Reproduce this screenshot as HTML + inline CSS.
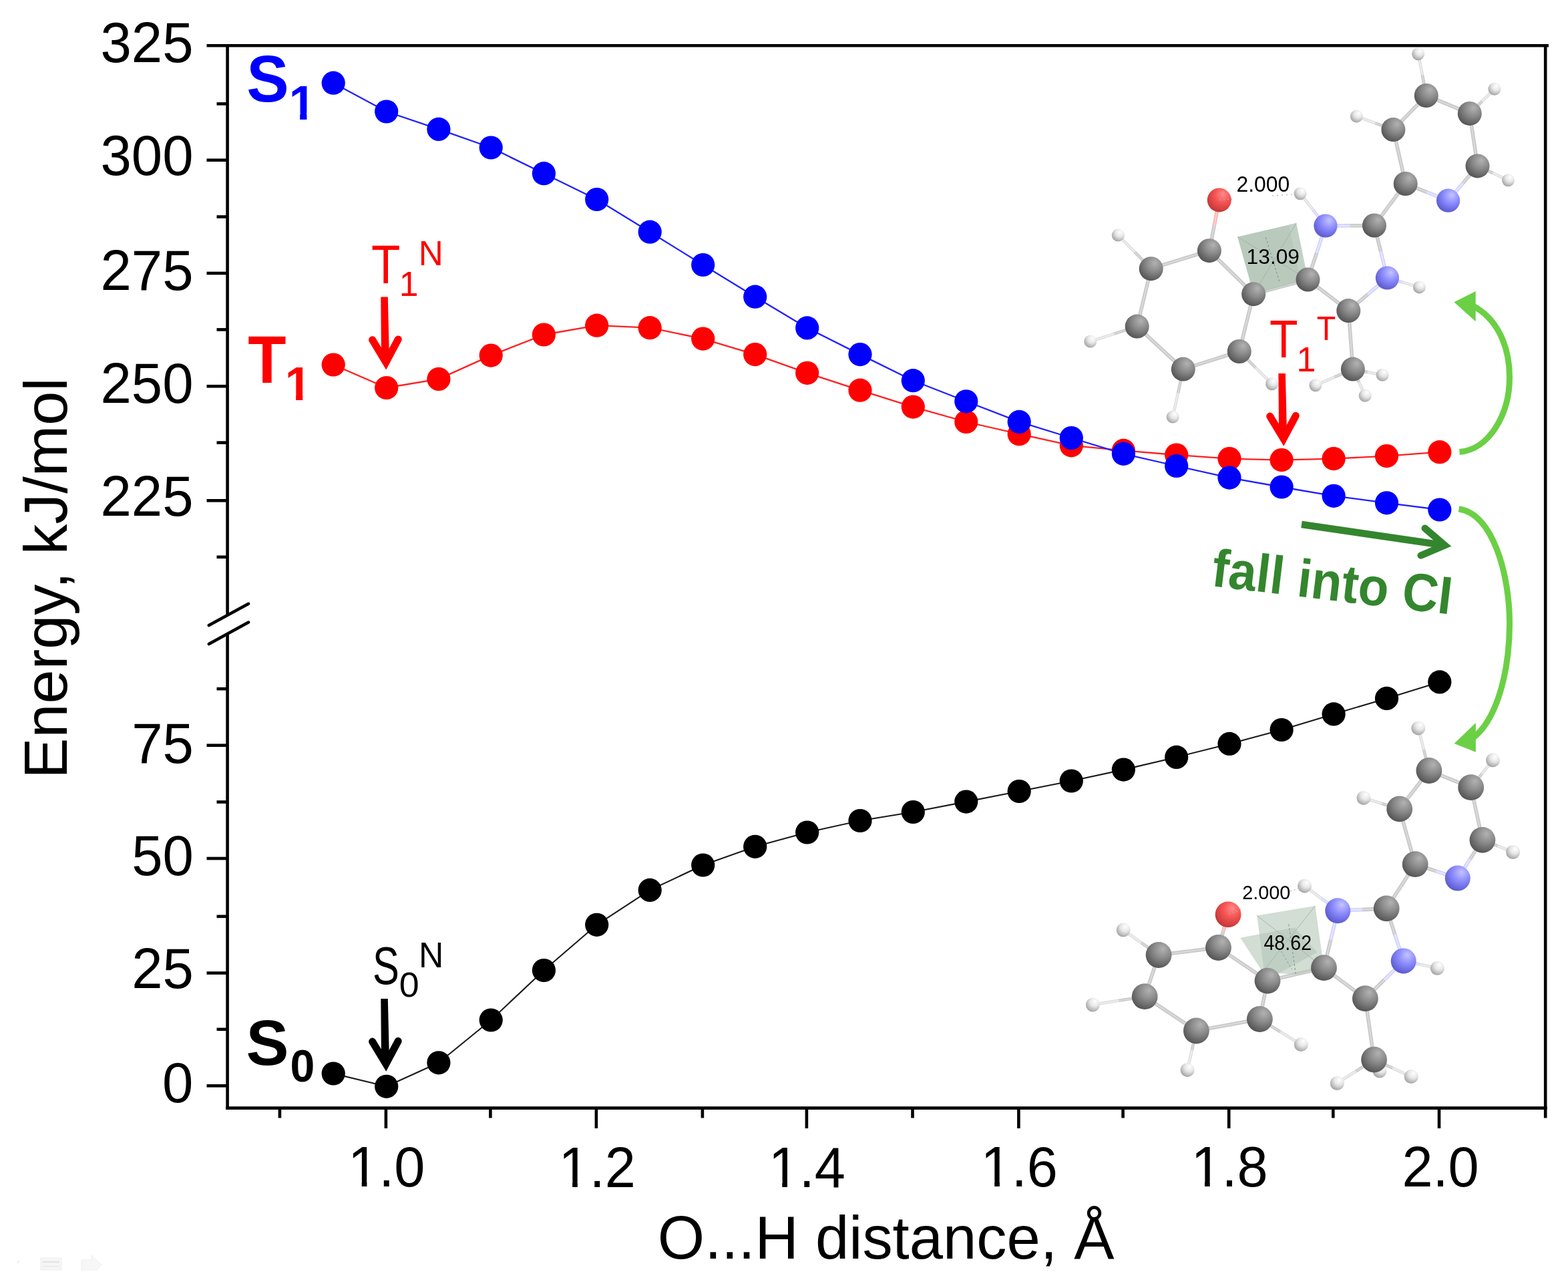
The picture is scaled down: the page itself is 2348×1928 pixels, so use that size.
<!DOCTYPE html><html><head><meta charset="utf-8"><style>html,body{margin:0;padding:0;background:#fff;width:2348px;height:1928px;overflow:hidden}svg{display:block}</style></head><body>
<svg width="2348" height="1928" viewBox="0 0 2348 1928">
<defs>
<radialGradient id="gC" cx="0.62" cy="0.32" r="0.75" fx="0.66" fy="0.26"><stop offset="0" stop-color="#b2b2b2"/><stop offset="0.45" stop-color="#8a8a8a"/><stop offset="1" stop-color="#4e4e4e"/></radialGradient>
<radialGradient id="gN" cx="0.62" cy="0.32" r="0.75" fx="0.66" fy="0.26"><stop offset="0" stop-color="#c4c4ff"/><stop offset="0.45" stop-color="#8c8cff"/><stop offset="1" stop-color="#5454c8"/></radialGradient>
<radialGradient id="gO" cx="0.62" cy="0.32" r="0.75" fx="0.66" fy="0.26"><stop offset="0" stop-color="#ff8a8a"/><stop offset="0.45" stop-color="#f65252"/><stop offset="1" stop-color="#bb3434"/></radialGradient>
<radialGradient id="gH" cx="0.62" cy="0.32" r="0.75" fx="0.66" fy="0.26"><stop offset="0" stop-color="#ffffff"/><stop offset="0.45" stop-color="#e6e6e6"/><stop offset="1" stop-color="#9a9a9a"/></radialGradient>
<clipPath id="c1_9" clipPathUnits="userSpaceOnUse"><rect x="-855.00" y="-855.00" width="1710.00" height="846.73"/><rect x="21.25" y="-8.27" width="7.95" height="10.27"/><rect x="53.01" y="-855.00" width="855.00" height="1710.00"/></clipPath><clipPath id="c1_10" clipPathUnits="userSpaceOnUse"><rect x="-855.00" y="-855.00" width="1710.00" height="846.73"/><rect x="21.25" y="-8.27" width="7.95" height="10.27"/><rect x="53.01" y="-855.00" width="855.00" height="1710.00"/></clipPath><clipPath id="c1_11" clipPathUnits="userSpaceOnUse"><rect x="-855.00" y="-855.00" width="1710.00" height="846.73"/><rect x="21.25" y="-8.27" width="7.95" height="10.27"/><rect x="53.01" y="-855.00" width="855.00" height="1710.00"/></clipPath><clipPath id="c1_12" clipPathUnits="userSpaceOnUse"><rect x="-855.00" y="-855.00" width="1710.00" height="846.73"/><rect x="21.25" y="-8.27" width="7.95" height="10.27"/><rect x="53.01" y="-855.00" width="855.00" height="1710.00"/></clipPath><clipPath id="c1_13" clipPathUnits="userSpaceOnUse"><rect x="-855.00" y="-855.00" width="1710.00" height="846.73"/><rect x="21.25" y="-8.27" width="7.95" height="10.27"/><rect x="53.01" y="-855.00" width="855.00" height="1710.00"/></clipPath><clipPath id="c1_16" clipPathUnits="userSpaceOnUse"><rect x="-717.39" y="-717.39" width="1434.78" height="707.42"/><rect x="16.49" y="-9.97" width="10.21" height="11.97"/><rect x="44.48" y="-717.39" width="717.39" height="1434.78"/></clipPath><clipPath id="c1_18" clipPathUnits="userSpaceOnUse"><rect x="-710.14" y="-710.14" width="1420.29" height="700.27"/><rect x="16.32" y="-9.88" width="10.12" height="11.88"/><rect x="44.03" y="-710.14" width="710.14" height="1420.29"/></clipPath>
</defs>
<rect width="2348" height="1928" fill="#fff"/>
<g stroke="#000" stroke-width="4.6" fill="none" stroke-linecap="butt">
<line x1="309.5" y1="68.3" x2="2319" y2="68.3"/>
<line x1="2314.2" y1="66.0" x2="2314.2" y2="1673.5"/>
<line x1="338.3" y1="1658.6" x2="2316.6" y2="1658.6"/>
<line x1="340.6" y1="66.0" x2="340.6" y2="921"/>
<line x1="340.6" y1="949" x2="340.6" y2="1660.9"/>
<line x1="309.5" y1="239.7" x2="340.6" y2="239.7"/>
<line x1="309.5" y1="409.0" x2="340.6" y2="409.0"/>
<line x1="309.5" y1="578.2" x2="340.6" y2="578.2"/>
<line x1="309.5" y1="749.3" x2="340.6" y2="749.3"/>
<line x1="324.5" y1="155.4" x2="340.6" y2="155.4"/>
<line x1="324.5" y1="324.5" x2="340.6" y2="324.5"/>
<line x1="324.5" y1="493.4" x2="340.6" y2="493.4"/>
<line x1="324.5" y1="662.6" x2="340.6" y2="662.6"/>
<line x1="324.5" y1="833.8" x2="340.6" y2="833.8"/>
<line x1="309.5" y1="1115.7" x2="340.6" y2="1115.7"/>
<line x1="309.5" y1="1285.0" x2="340.6" y2="1285.0"/>
<line x1="309.5" y1="1456.5" x2="340.6" y2="1456.5"/>
<line x1="309.5" y1="1625.3" x2="340.6" y2="1625.3"/>
<line x1="324.5" y1="1031.1" x2="340.6" y2="1031.1"/>
<line x1="324.5" y1="1200.5" x2="340.6" y2="1200.5"/>
<line x1="324.5" y1="1371.8" x2="340.6" y2="1371.8"/>
<line x1="324.5" y1="1540.8" x2="340.6" y2="1540.8"/>
<line x1="577.9" y1="1658.6" x2="577.9" y2="1689"/>
<line x1="892.9" y1="1658.6" x2="892.9" y2="1689"/>
<line x1="1207.9" y1="1658.6" x2="1207.9" y2="1689"/>
<line x1="1525.4" y1="1658.6" x2="1525.4" y2="1689"/>
<line x1="1840.2" y1="1658.6" x2="1840.2" y2="1689"/>
<line x1="2155.0" y1="1658.6" x2="2155.0" y2="1689"/>
<line x1="418.9" y1="1658.6" x2="418.9" y2="1673.5"/>
<line x1="734.4" y1="1658.6" x2="734.4" y2="1673.5"/>
<line x1="1051.9" y1="1658.6" x2="1051.9" y2="1673.5"/>
<line x1="1366.5" y1="1658.6" x2="1366.5" y2="1673.5"/>
<line x1="1681.6" y1="1658.6" x2="1681.6" y2="1673.5"/>
<line x1="1996.3" y1="1658.6" x2="1996.3" y2="1673.5"/>
</g>
<g stroke="#000" stroke-width="4.6" stroke-linecap="round"><line x1="312.8" y1="936.1" x2="372.1" y2="903.8"/><line x1="312.8" y1="964" x2="372.1" y2="931.6"/></g>
<polyline points="499.2,1607.0 578.7,1626.3 656.9,1590.8 735.2,1527.0 814.4,1452.5 893.7,1384.3 973.2,1332.4 1052.7,1295.0 1130.7,1267.3 1208.7,1246.0 1288.0,1228.5 1367.3,1215.5 1446.8,1200.1 1526.2,1184.5 1604.3,1169.0 1682.4,1152.1 1761.7,1133.4 1841.0,1113.4 1919.1,1092.5 1997.1,1068.9 2076.5,1045.4 2155.8,1020.9" fill="none" stroke="#1a1a1a" stroke-width="2.1" stroke-linejoin="round"/>
<g fill="#000000"><circle cx="499.2" cy="1607.0" r="17.6"/><circle cx="578.7" cy="1626.3" r="17.6"/><circle cx="656.9" cy="1590.8" r="17.6"/><circle cx="735.2" cy="1527.0" r="17.6"/><circle cx="814.4" cy="1452.5" r="17.6"/><circle cx="893.7" cy="1384.3" r="17.6"/><circle cx="973.2" cy="1332.4" r="17.6"/><circle cx="1052.7" cy="1295.0" r="17.6"/><circle cx="1130.7" cy="1267.3" r="17.6"/><circle cx="1208.7" cy="1246.0" r="17.6"/><circle cx="1288.0" cy="1228.5" r="17.6"/><circle cx="1367.3" cy="1215.5" r="17.6"/><circle cx="1446.8" cy="1200.1" r="17.6"/><circle cx="1526.2" cy="1184.5" r="17.6"/><circle cx="1604.3" cy="1169.0" r="17.6"/><circle cx="1682.4" cy="1152.1" r="17.6"/><circle cx="1761.7" cy="1133.4" r="17.6"/><circle cx="1841.0" cy="1113.4" r="17.6"/><circle cx="1919.1" cy="1092.5" r="17.6"/><circle cx="1997.1" cy="1068.9" r="17.6"/><circle cx="2076.5" cy="1045.4" r="17.6"/><circle cx="2155.8" cy="1020.9" r="17.6"/></g>
<polyline points="499.2,546.0 578.7,580.5 656.9,567.4 735.2,532.1 814.4,501.0 893.7,487.2 973.2,490.7 1052.7,507.1 1130.7,530.6 1208.7,558.3 1288.0,584.2 1367.3,609.1 1446.8,631.5 1526.2,649.7 1604.3,666.8 1682.4,674.4 1761.7,681.0 1841.0,686.6 1919.1,688.6 1997.1,686.6 2076.5,682.6 2155.8,676.7" fill="none" stroke="#ff2020" stroke-width="2.3" stroke-linejoin="round"/>
<g fill="#ff0000"><circle cx="499.2" cy="546.0" r="17.6"/><circle cx="578.7" cy="580.5" r="17.6"/><circle cx="656.9" cy="567.4" r="17.6"/><circle cx="735.2" cy="532.1" r="17.6"/><circle cx="814.4" cy="501.0" r="17.6"/><circle cx="893.7" cy="487.2" r="17.6"/><circle cx="973.2" cy="490.7" r="17.6"/><circle cx="1052.7" cy="507.1" r="17.6"/><circle cx="1130.7" cy="530.6" r="17.6"/><circle cx="1208.7" cy="558.3" r="17.6"/><circle cx="1288.0" cy="584.2" r="17.6"/><circle cx="1367.3" cy="609.1" r="17.6"/><circle cx="1446.8" cy="631.5" r="17.6"/><circle cx="1526.2" cy="649.7" r="17.6"/><circle cx="1604.3" cy="666.8" r="17.6"/><circle cx="1682.4" cy="674.4" r="17.6"/><circle cx="1761.7" cy="681.0" r="17.6"/><circle cx="1841.0" cy="686.6" r="17.6"/><circle cx="1919.1" cy="688.6" r="17.6"/><circle cx="1997.1" cy="686.6" r="17.6"/><circle cx="2076.5" cy="682.6" r="17.6"/><circle cx="2155.8" cy="676.7" r="17.6"/></g>
<polyline points="499.2,124.2 578.7,167.0 656.9,193.4 735.2,221.0 814.4,259.7 893.7,298.5 973.2,347.2 1052.7,396.5 1130.7,444.2 1208.7,490.9 1288.0,530.6 1367.3,569.7 1446.8,600.8 1526.2,631.4 1604.3,655.5 1682.4,679.3 1761.7,697.5 1841.0,715.1 1919.1,729.0 1997.1,742.3 2076.5,752.8 2155.8,763.0" fill="none" stroke="#2020ff" stroke-width="2.3" stroke-linejoin="round"/>
<g fill="#0000ff"><circle cx="499.2" cy="124.2" r="17.6"/><circle cx="578.7" cy="167.0" r="17.6"/><circle cx="656.9" cy="193.4" r="17.6"/><circle cx="735.2" cy="221.0" r="17.6"/><circle cx="814.4" cy="259.7" r="17.6"/><circle cx="893.7" cy="298.5" r="17.6"/><circle cx="973.2" cy="347.2" r="17.6"/><circle cx="1052.7" cy="396.5" r="17.6"/><circle cx="1130.7" cy="444.2" r="17.6"/><circle cx="1208.7" cy="490.9" r="17.6"/><circle cx="1288.0" cy="530.6" r="17.6"/><circle cx="1367.3" cy="569.7" r="17.6"/><circle cx="1446.8" cy="600.8" r="17.6"/><circle cx="1526.2" cy="631.4" r="17.6"/><circle cx="1604.3" cy="655.5" r="17.6"/><circle cx="1682.4" cy="679.3" r="17.6"/><circle cx="1761.7" cy="697.5" r="17.6"/><circle cx="1841.0" cy="715.1" r="17.6"/><circle cx="1919.1" cy="729.0" r="17.6"/><circle cx="1997.1" cy="742.3" r="17.6"/><circle cx="2076.5" cy="752.8" r="17.6"/><circle cx="2155.8" cy="763.0" r="17.6"/></g>
<line x1="1810.9" y1="375.2" x2="1767.3" y2="388.7" stroke="#c8c8c8" stroke-width="5.6"/>
<line x1="1767.3" y1="388.7" x2="1723.7" y2="402.2" stroke="#c8c8c8" stroke-width="5.6"/>
<line x1="1810.9" y1="375.2" x2="1767.3" y2="388.7" stroke="#dadada" stroke-width="2.2"/>
<line x1="1767.3" y1="388.7" x2="1723.7" y2="402.2" stroke="#dadada" stroke-width="2.2"/>
<line x1="1723.7" y1="402.2" x2="1713.2" y2="445.4" stroke="#c8c8c8" stroke-width="5.6"/>
<line x1="1713.2" y1="445.4" x2="1702.7" y2="488.6" stroke="#c8c8c8" stroke-width="5.6"/>
<line x1="1723.7" y1="402.2" x2="1713.2" y2="445.4" stroke="#dadada" stroke-width="2.2"/>
<line x1="1713.2" y1="445.4" x2="1702.7" y2="488.6" stroke="#dadada" stroke-width="2.2"/>
<line x1="1702.7" y1="488.6" x2="1737.2" y2="520.6" stroke="#c8c8c8" stroke-width="5.6"/>
<line x1="1737.2" y1="520.6" x2="1771.8" y2="552.6" stroke="#c8c8c8" stroke-width="5.6"/>
<line x1="1702.7" y1="488.6" x2="1737.2" y2="520.6" stroke="#dadada" stroke-width="2.2"/>
<line x1="1737.2" y1="520.6" x2="1771.8" y2="552.6" stroke="#dadada" stroke-width="2.2"/>
<line x1="1771.8" y1="552.6" x2="1813.8" y2="539.3" stroke="#c8c8c8" stroke-width="5.6"/>
<line x1="1813.8" y1="539.3" x2="1855.8" y2="526.0" stroke="#c8c8c8" stroke-width="5.6"/>
<line x1="1771.8" y1="552.6" x2="1813.8" y2="539.3" stroke="#dadada" stroke-width="2.2"/>
<line x1="1813.8" y1="539.3" x2="1855.8" y2="526.0" stroke="#dadada" stroke-width="2.2"/>
<line x1="1855.8" y1="526.0" x2="1866.5" y2="483.1" stroke="#c8c8c8" stroke-width="5.6"/>
<line x1="1866.5" y1="483.1" x2="1877.2" y2="440.2" stroke="#c8c8c8" stroke-width="5.6"/>
<line x1="1855.8" y1="526.0" x2="1866.5" y2="483.1" stroke="#dadada" stroke-width="2.2"/>
<line x1="1866.5" y1="483.1" x2="1877.2" y2="440.2" stroke="#dadada" stroke-width="2.2"/>
<line x1="1877.2" y1="440.2" x2="1844.1" y2="407.7" stroke="#c8c8c8" stroke-width="5.6"/>
<line x1="1844.1" y1="407.7" x2="1810.9" y2="375.2" stroke="#c8c8c8" stroke-width="5.6"/>
<line x1="1877.2" y1="440.2" x2="1844.1" y2="407.7" stroke="#dadada" stroke-width="2.2"/>
<line x1="1844.1" y1="407.7" x2="1810.9" y2="375.2" stroke="#dadada" stroke-width="2.2"/>
<line x1="1810.9" y1="375.2" x2="1818.3" y2="337.3" stroke="#c8c8c8" stroke-width="5.6"/>
<line x1="1818.3" y1="337.3" x2="1825.8" y2="299.4" stroke="#ffb4b4" stroke-width="5.6"/>
<line x1="1810.9" y1="375.2" x2="1818.3" y2="337.3" stroke="#dadada" stroke-width="2.2"/>
<line x1="1818.3" y1="337.3" x2="1825.8" y2="299.4" stroke="#ffd0d0" stroke-width="2.2"/>
<line x1="1877.2" y1="440.2" x2="1917.8" y2="429.4" stroke="#c8c8c8" stroke-width="5.6"/>
<line x1="1917.8" y1="429.4" x2="1958.5" y2="418.5" stroke="#c8c8c8" stroke-width="5.6"/>
<line x1="1877.2" y1="440.2" x2="1917.8" y2="429.4" stroke="#dadada" stroke-width="2.2"/>
<line x1="1917.8" y1="429.4" x2="1958.5" y2="418.5" stroke="#dadada" stroke-width="2.2"/>
<line x1="1958.5" y1="418.5" x2="1971.8" y2="378.2" stroke="#c8c8c8" stroke-width="5.6"/>
<line x1="1971.8" y1="378.2" x2="1985.0" y2="338.0" stroke="#d2d2ff" stroke-width="5.6"/>
<line x1="1958.5" y1="418.5" x2="1971.8" y2="378.2" stroke="#dadada" stroke-width="2.2"/>
<line x1="1971.8" y1="378.2" x2="1985.0" y2="338.0" stroke="#e6e6ff" stroke-width="2.2"/>
<line x1="1985.0" y1="338.0" x2="2021.5" y2="337.8" stroke="#d2d2ff" stroke-width="5.6"/>
<line x1="2021.5" y1="337.8" x2="2058.0" y2="337.5" stroke="#c8c8c8" stroke-width="5.6"/>
<line x1="1985.0" y1="338.0" x2="2021.5" y2="337.8" stroke="#e6e6ff" stroke-width="2.2"/>
<line x1="2021.5" y1="337.8" x2="2058.0" y2="337.5" stroke="#dadada" stroke-width="2.2"/>
<line x1="2058.0" y1="337.5" x2="2067.7" y2="376.8" stroke="#c8c8c8" stroke-width="5.6"/>
<line x1="2067.7" y1="376.8" x2="2077.4" y2="416.0" stroke="#d2d2ff" stroke-width="5.6"/>
<line x1="2058.0" y1="337.5" x2="2067.7" y2="376.8" stroke="#dadada" stroke-width="2.2"/>
<line x1="2067.7" y1="376.8" x2="2077.4" y2="416.0" stroke="#e6e6ff" stroke-width="2.2"/>
<line x1="2077.4" y1="416.0" x2="2048.3" y2="440.6" stroke="#d2d2ff" stroke-width="5.6"/>
<line x1="2048.3" y1="440.6" x2="2019.3" y2="465.1" stroke="#c8c8c8" stroke-width="5.6"/>
<line x1="2077.4" y1="416.0" x2="2048.3" y2="440.6" stroke="#e6e6ff" stroke-width="2.2"/>
<line x1="2048.3" y1="440.6" x2="2019.3" y2="465.1" stroke="#dadada" stroke-width="2.2"/>
<line x1="2019.3" y1="465.1" x2="1988.9" y2="441.8" stroke="#c8c8c8" stroke-width="5.6"/>
<line x1="1988.9" y1="441.8" x2="1958.5" y2="418.5" stroke="#c8c8c8" stroke-width="5.6"/>
<line x1="2019.3" y1="465.1" x2="1988.9" y2="441.8" stroke="#dadada" stroke-width="2.2"/>
<line x1="1988.9" y1="441.8" x2="1958.5" y2="418.5" stroke="#dadada" stroke-width="2.2"/>
<line x1="2058.0" y1="337.5" x2="2081.3" y2="306.2" stroke="#c8c8c8" stroke-width="5.6"/>
<line x1="2081.3" y1="306.2" x2="2104.7" y2="275.0" stroke="#c8c8c8" stroke-width="5.6"/>
<line x1="2058.0" y1="337.5" x2="2081.3" y2="306.2" stroke="#dadada" stroke-width="2.2"/>
<line x1="2081.3" y1="306.2" x2="2104.7" y2="275.0" stroke="#dadada" stroke-width="2.2"/>
<line x1="2104.7" y1="275.0" x2="2095.6" y2="234.6" stroke="#c8c8c8" stroke-width="5.6"/>
<line x1="2095.6" y1="234.6" x2="2086.4" y2="194.1" stroke="#c8c8c8" stroke-width="5.6"/>
<line x1="2104.7" y1="275.0" x2="2095.6" y2="234.6" stroke="#dadada" stroke-width="2.2"/>
<line x1="2095.6" y1="234.6" x2="2086.4" y2="194.1" stroke="#dadada" stroke-width="2.2"/>
<line x1="2086.4" y1="194.1" x2="2111.1" y2="168.6" stroke="#c8c8c8" stroke-width="5.6"/>
<line x1="2111.1" y1="168.6" x2="2135.8" y2="143.0" stroke="#c8c8c8" stroke-width="5.6"/>
<line x1="2086.4" y1="194.1" x2="2111.1" y2="168.6" stroke="#dadada" stroke-width="2.2"/>
<line x1="2111.1" y1="168.6" x2="2135.8" y2="143.0" stroke="#dadada" stroke-width="2.2"/>
<line x1="2135.8" y1="143.0" x2="2168.3" y2="156.4" stroke="#c8c8c8" stroke-width="5.6"/>
<line x1="2168.3" y1="156.4" x2="2200.8" y2="169.9" stroke="#c8c8c8" stroke-width="5.6"/>
<line x1="2135.8" y1="143.0" x2="2168.3" y2="156.4" stroke="#dadada" stroke-width="2.2"/>
<line x1="2168.3" y1="156.4" x2="2200.8" y2="169.9" stroke="#dadada" stroke-width="2.2"/>
<line x1="2200.8" y1="169.9" x2="2206.7" y2="209.2" stroke="#c8c8c8" stroke-width="5.6"/>
<line x1="2206.7" y1="209.2" x2="2212.5" y2="248.4" stroke="#c8c8c8" stroke-width="5.6"/>
<line x1="2200.8" y1="169.9" x2="2206.7" y2="209.2" stroke="#dadada" stroke-width="2.2"/>
<line x1="2206.7" y1="209.2" x2="2212.5" y2="248.4" stroke="#dadada" stroke-width="2.2"/>
<line x1="2212.5" y1="248.4" x2="2190.6" y2="274.3" stroke="#c8c8c8" stroke-width="5.6"/>
<line x1="2190.6" y1="274.3" x2="2168.6" y2="300.2" stroke="#d2d2ff" stroke-width="5.6"/>
<line x1="2212.5" y1="248.4" x2="2190.6" y2="274.3" stroke="#dadada" stroke-width="2.2"/>
<line x1="2190.6" y1="274.3" x2="2168.6" y2="300.2" stroke="#e6e6ff" stroke-width="2.2"/>
<line x1="2168.6" y1="300.2" x2="2136.6" y2="287.6" stroke="#d2d2ff" stroke-width="5.6"/>
<line x1="2136.6" y1="287.6" x2="2104.7" y2="275.0" stroke="#c8c8c8" stroke-width="5.6"/>
<line x1="2168.6" y1="300.2" x2="2136.6" y2="287.6" stroke="#e6e6ff" stroke-width="2.2"/>
<line x1="2136.6" y1="287.6" x2="2104.7" y2="275.0" stroke="#dadada" stroke-width="2.2"/>
<line x1="2019.3" y1="465.1" x2="2022.6" y2="508.9" stroke="#c8c8c8" stroke-width="5.6"/>
<line x1="2022.6" y1="508.9" x2="2025.9" y2="552.6" stroke="#c8c8c8" stroke-width="5.6"/>
<line x1="2019.3" y1="465.1" x2="2022.6" y2="508.9" stroke="#dadada" stroke-width="2.2"/>
<line x1="2022.6" y1="508.9" x2="2025.9" y2="552.6" stroke="#dadada" stroke-width="2.2"/>
<line x1="1723.7" y1="402.2" x2="1699.0" y2="377.1" stroke="#c8c8c8" stroke-width="4.6"/>
<line x1="1699.0" y1="377.1" x2="1674.3" y2="352.1" stroke="#dedede" stroke-width="4.6"/>
<line x1="1723.7" y1="402.2" x2="1699.0" y2="377.1" stroke="#dadada" stroke-width="1.8"/>
<line x1="1699.0" y1="377.1" x2="1674.3" y2="352.1" stroke="#eeeeee" stroke-width="1.8"/>
<line x1="1702.7" y1="488.6" x2="1667.8" y2="499.9" stroke="#c8c8c8" stroke-width="4.6"/>
<line x1="1667.8" y1="499.9" x2="1632.8" y2="511.1" stroke="#dedede" stroke-width="4.6"/>
<line x1="1702.7" y1="488.6" x2="1667.8" y2="499.9" stroke="#dadada" stroke-width="1.8"/>
<line x1="1667.8" y1="499.9" x2="1632.8" y2="511.1" stroke="#eeeeee" stroke-width="1.8"/>
<line x1="1771.8" y1="552.6" x2="1764.0" y2="588.4" stroke="#c8c8c8" stroke-width="4.6"/>
<line x1="1764.0" y1="588.4" x2="1756.2" y2="624.1" stroke="#dedede" stroke-width="4.6"/>
<line x1="1771.8" y1="552.6" x2="1764.0" y2="588.4" stroke="#dadada" stroke-width="1.8"/>
<line x1="1764.0" y1="588.4" x2="1756.2" y2="624.1" stroke="#eeeeee" stroke-width="1.8"/>
<line x1="1855.8" y1="526.0" x2="1880.2" y2="550.4" stroke="#c8c8c8" stroke-width="4.6"/>
<line x1="1880.2" y1="550.4" x2="1904.6" y2="574.7" stroke="#dedede" stroke-width="4.6"/>
<line x1="1855.8" y1="526.0" x2="1880.2" y2="550.4" stroke="#dadada" stroke-width="1.8"/>
<line x1="1880.2" y1="550.4" x2="1904.6" y2="574.7" stroke="#eeeeee" stroke-width="1.8"/>
<line x1="1985.0" y1="338.0" x2="1966.0" y2="313.9" stroke="#d2d2ff" stroke-width="4.6"/>
<line x1="1966.0" y1="313.9" x2="1947.0" y2="289.8" stroke="#dedede" stroke-width="4.6"/>
<line x1="1985.0" y1="338.0" x2="1966.0" y2="313.9" stroke="#e6e6ff" stroke-width="1.8"/>
<line x1="1966.0" y1="313.9" x2="1947.0" y2="289.8" stroke="#eeeeee" stroke-width="1.8"/>
<line x1="2077.4" y1="416.0" x2="2101.4" y2="422.9" stroke="#d2d2ff" stroke-width="4.6"/>
<line x1="2101.4" y1="422.9" x2="2125.4" y2="429.9" stroke="#dedede" stroke-width="4.6"/>
<line x1="2077.4" y1="416.0" x2="2101.4" y2="422.9" stroke="#e6e6ff" stroke-width="1.8"/>
<line x1="2101.4" y1="422.9" x2="2125.4" y2="429.9" stroke="#eeeeee" stroke-width="1.8"/>
<line x1="2086.4" y1="194.1" x2="2058.9" y2="184.1" stroke="#c8c8c8" stroke-width="4.6"/>
<line x1="2058.9" y1="184.1" x2="2031.4" y2="174.1" stroke="#dedede" stroke-width="4.6"/>
<line x1="2086.4" y1="194.1" x2="2058.9" y2="184.1" stroke="#dadada" stroke-width="1.8"/>
<line x1="2058.9" y1="184.1" x2="2031.4" y2="174.1" stroke="#eeeeee" stroke-width="1.8"/>
<line x1="2135.8" y1="143.0" x2="2129.8" y2="111.8" stroke="#c8c8c8" stroke-width="4.6"/>
<line x1="2129.8" y1="111.8" x2="2123.7" y2="80.7" stroke="#dedede" stroke-width="4.6"/>
<line x1="2135.8" y1="143.0" x2="2129.8" y2="111.8" stroke="#dadada" stroke-width="1.8"/>
<line x1="2129.8" y1="111.8" x2="2123.7" y2="80.7" stroke="#eeeeee" stroke-width="1.8"/>
<line x1="2200.8" y1="169.9" x2="2219.4" y2="151.6" stroke="#c8c8c8" stroke-width="4.6"/>
<line x1="2219.4" y1="151.6" x2="2237.9" y2="133.3" stroke="#dedede" stroke-width="4.6"/>
<line x1="2200.8" y1="169.9" x2="2219.4" y2="151.6" stroke="#dadada" stroke-width="1.8"/>
<line x1="2219.4" y1="151.6" x2="2237.9" y2="133.3" stroke="#eeeeee" stroke-width="1.8"/>
<line x1="2212.5" y1="248.4" x2="2235.5" y2="259.1" stroke="#c8c8c8" stroke-width="4.6"/>
<line x1="2235.5" y1="259.1" x2="2258.5" y2="269.8" stroke="#dedede" stroke-width="4.6"/>
<line x1="2212.5" y1="248.4" x2="2235.5" y2="259.1" stroke="#dadada" stroke-width="1.8"/>
<line x1="2235.5" y1="259.1" x2="2258.5" y2="269.8" stroke="#eeeeee" stroke-width="1.8"/>
<line x1="2025.9" y1="552.6" x2="1997.9" y2="564.7" stroke="#c8c8c8" stroke-width="4.6"/>
<line x1="1997.9" y1="564.7" x2="1969.9" y2="576.8" stroke="#dedede" stroke-width="4.6"/>
<line x1="2025.9" y1="552.6" x2="1997.9" y2="564.7" stroke="#dadada" stroke-width="1.8"/>
<line x1="1997.9" y1="564.7" x2="1969.9" y2="576.8" stroke="#eeeeee" stroke-width="1.8"/>
<line x1="2025.9" y1="552.6" x2="2048.0" y2="556.9" stroke="#c8c8c8" stroke-width="4.6"/>
<line x1="2048.0" y1="556.9" x2="2070.1" y2="561.2" stroke="#dedede" stroke-width="4.6"/>
<line x1="2025.9" y1="552.6" x2="2048.0" y2="556.9" stroke="#dadada" stroke-width="1.8"/>
<line x1="2048.0" y1="556.9" x2="2070.1" y2="561.2" stroke="#eeeeee" stroke-width="1.8"/>
<line x1="2025.9" y1="552.6" x2="2035.1" y2="572.5" stroke="#c8c8c8" stroke-width="4.6"/>
<line x1="2035.1" y1="572.5" x2="2044.2" y2="592.3" stroke="#dedede" stroke-width="4.6"/>
<line x1="2025.9" y1="552.6" x2="2035.1" y2="572.5" stroke="#dadada" stroke-width="1.8"/>
<line x1="2035.1" y1="572.5" x2="2044.2" y2="592.3" stroke="#eeeeee" stroke-width="1.8"/>
<g><polygon points="1853.1,354.5 1941.1,333.9 1958.5,418.5 1877.2,440.2" fill="#b4c6b8" fill-opacity="0.93"/><polygon points="1930,336 1941.1,333.9 1958.5,418.5 1948,421" fill="#c8d6cb" fill-opacity="0.6"/><g stroke="#a3b5a7" stroke-width="1" fill="none"><line x1="1853.1" y1="354.5" x2="1958.5" y2="418.5"/><line x1="1941.1" y1="333.9" x2="1877.2" y2="440.2"/></g><line x1="1895.4" y1="355.2" x2="1916.4" y2="423.4" stroke="#8d9d91" stroke-width="1.3" stroke-dasharray="3,3"/></g>
<circle cx="1674.3" cy="352.1" r="9.5" fill="url(#gH)"/>
<circle cx="1632.8" cy="511.1" r="9.5" fill="url(#gH)"/>
<circle cx="1756.2" cy="624.1" r="9.5" fill="url(#gH)"/>
<circle cx="1904.6" cy="574.7" r="9.5" fill="url(#gH)"/>
<circle cx="1947.0" cy="289.8" r="9.5" fill="url(#gH)"/>
<circle cx="2125.4" cy="429.9" r="9.5" fill="url(#gH)"/>
<circle cx="2031.4" cy="174.1" r="9.5" fill="url(#gH)"/>
<circle cx="2123.7" cy="80.7" r="9.5" fill="url(#gH)"/>
<circle cx="2237.9" cy="133.3" r="9.5" fill="url(#gH)"/>
<circle cx="2258.5" cy="269.8" r="9.5" fill="url(#gH)"/>
<circle cx="1969.9" cy="576.8" r="9.5" fill="url(#gH)"/>
<circle cx="2070.1" cy="561.2" r="9.5" fill="url(#gH)"/>
<circle cx="2044.2" cy="592.3" r="9.5" fill="url(#gH)"/>
<circle cx="1810.9" cy="375.2" r="18.0" fill="url(#gC)"/>
<circle cx="1723.7" cy="402.2" r="18.0" fill="url(#gC)"/>
<circle cx="1702.7" cy="488.6" r="18.0" fill="url(#gC)"/>
<circle cx="1771.8" cy="552.6" r="18.0" fill="url(#gC)"/>
<circle cx="1855.8" cy="526.0" r="18.0" fill="url(#gC)"/>
<circle cx="1877.2" cy="440.2" r="18.0" fill="url(#gC)"/>
<circle cx="1958.5" cy="418.5" r="18.0" fill="url(#gC)"/>
<circle cx="2019.3" cy="465.1" r="18.0" fill="url(#gC)"/>
<circle cx="2058.0" cy="337.5" r="18.0" fill="url(#gC)"/>
<circle cx="2104.7" cy="275.0" r="18.0" fill="url(#gC)"/>
<circle cx="2086.4" cy="194.1" r="18.0" fill="url(#gC)"/>
<circle cx="2135.8" cy="143.0" r="18.0" fill="url(#gC)"/>
<circle cx="2200.8" cy="169.9" r="18.0" fill="url(#gC)"/>
<circle cx="2212.5" cy="248.4" r="18.0" fill="url(#gC)"/>
<circle cx="2025.9" cy="552.6" r="18.0" fill="url(#gC)"/>
<circle cx="1985.0" cy="338.0" r="17.6" fill="url(#gN)"/>
<circle cx="2077.4" cy="416.0" r="17.6" fill="url(#gN)"/>
<circle cx="2168.6" cy="300.2" r="17.6" fill="url(#gN)"/>
<circle cx="1825.8" cy="299.4" r="18.0" fill="url(#gO)"/>
<line x1="1824.5" y1="1418.5" x2="1779.8" y2="1424.0" stroke="#c8c8c8" stroke-width="5.6"/>
<line x1="1779.8" y1="1424.0" x2="1735.1" y2="1429.5" stroke="#c8c8c8" stroke-width="5.6"/>
<line x1="1824.5" y1="1418.5" x2="1779.8" y2="1424.0" stroke="#dadada" stroke-width="2.2"/>
<line x1="1779.8" y1="1424.0" x2="1735.1" y2="1429.5" stroke="#dadada" stroke-width="2.2"/>
<line x1="1735.1" y1="1429.5" x2="1724.7" y2="1460.6" stroke="#c8c8c8" stroke-width="5.6"/>
<line x1="1724.7" y1="1460.6" x2="1714.2" y2="1491.7" stroke="#c8c8c8" stroke-width="5.6"/>
<line x1="1735.1" y1="1429.5" x2="1724.7" y2="1460.6" stroke="#dadada" stroke-width="2.2"/>
<line x1="1724.7" y1="1460.6" x2="1714.2" y2="1491.7" stroke="#dadada" stroke-width="2.2"/>
<line x1="1714.2" y1="1491.7" x2="1752.8" y2="1517.3" stroke="#c8c8c8" stroke-width="5.6"/>
<line x1="1752.8" y1="1517.3" x2="1791.4" y2="1543.0" stroke="#c8c8c8" stroke-width="5.6"/>
<line x1="1714.2" y1="1491.7" x2="1752.8" y2="1517.3" stroke="#dadada" stroke-width="2.2"/>
<line x1="1752.8" y1="1517.3" x2="1791.4" y2="1543.0" stroke="#dadada" stroke-width="2.2"/>
<line x1="1791.4" y1="1543.0" x2="1838.9" y2="1534.2" stroke="#c8c8c8" stroke-width="5.6"/>
<line x1="1838.9" y1="1534.2" x2="1886.4" y2="1525.5" stroke="#c8c8c8" stroke-width="5.6"/>
<line x1="1791.4" y1="1543.0" x2="1838.9" y2="1534.2" stroke="#dadada" stroke-width="2.2"/>
<line x1="1838.9" y1="1534.2" x2="1886.4" y2="1525.5" stroke="#dadada" stroke-width="2.2"/>
<line x1="1886.4" y1="1525.5" x2="1892.2" y2="1496.8" stroke="#c8c8c8" stroke-width="5.6"/>
<line x1="1892.2" y1="1496.8" x2="1898.0" y2="1468.2" stroke="#c8c8c8" stroke-width="5.6"/>
<line x1="1886.4" y1="1525.5" x2="1892.2" y2="1496.8" stroke="#dadada" stroke-width="2.2"/>
<line x1="1892.2" y1="1496.8" x2="1898.0" y2="1468.2" stroke="#dadada" stroke-width="2.2"/>
<line x1="1898.0" y1="1468.2" x2="1861.2" y2="1443.3" stroke="#c8c8c8" stroke-width="5.6"/>
<line x1="1861.2" y1="1443.3" x2="1824.5" y2="1418.5" stroke="#c8c8c8" stroke-width="5.6"/>
<line x1="1898.0" y1="1468.2" x2="1861.2" y2="1443.3" stroke="#dadada" stroke-width="2.2"/>
<line x1="1861.2" y1="1443.3" x2="1824.5" y2="1418.5" stroke="#dadada" stroke-width="2.2"/>
<line x1="1824.5" y1="1418.5" x2="1831.8" y2="1393.7" stroke="#c8c8c8" stroke-width="5.6"/>
<line x1="1831.8" y1="1393.7" x2="1839.1" y2="1368.9" stroke="#ffb4b4" stroke-width="5.6"/>
<line x1="1824.5" y1="1418.5" x2="1831.8" y2="1393.7" stroke="#dadada" stroke-width="2.2"/>
<line x1="1831.8" y1="1393.7" x2="1839.1" y2="1368.9" stroke="#ffd0d0" stroke-width="2.2"/>
<line x1="1898.0" y1="1468.2" x2="1940.2" y2="1458.5" stroke="#c8c8c8" stroke-width="5.6"/>
<line x1="1940.2" y1="1458.5" x2="1982.5" y2="1448.7" stroke="#c8c8c8" stroke-width="5.6"/>
<line x1="1898.0" y1="1468.2" x2="1940.2" y2="1458.5" stroke="#dadada" stroke-width="2.2"/>
<line x1="1940.2" y1="1458.5" x2="1982.5" y2="1448.7" stroke="#dadada" stroke-width="2.2"/>
<line x1="1982.5" y1="1448.7" x2="1992.9" y2="1406.0" stroke="#c8c8c8" stroke-width="5.6"/>
<line x1="1992.9" y1="1406.0" x2="2003.3" y2="1363.2" stroke="#d2d2ff" stroke-width="5.6"/>
<line x1="1982.5" y1="1448.7" x2="1992.9" y2="1406.0" stroke="#dadada" stroke-width="2.2"/>
<line x1="1992.9" y1="1406.0" x2="2003.3" y2="1363.2" stroke="#e6e6ff" stroke-width="2.2"/>
<line x1="2003.3" y1="1363.2" x2="2039.8" y2="1361.6" stroke="#d2d2ff" stroke-width="5.6"/>
<line x1="2039.8" y1="1361.6" x2="2076.2" y2="1359.9" stroke="#c8c8c8" stroke-width="5.6"/>
<line x1="2003.3" y1="1363.2" x2="2039.8" y2="1361.6" stroke="#e6e6ff" stroke-width="2.2"/>
<line x1="2039.8" y1="1361.6" x2="2076.2" y2="1359.9" stroke="#dadada" stroke-width="2.2"/>
<line x1="2076.2" y1="1359.9" x2="2088.9" y2="1399.2" stroke="#c8c8c8" stroke-width="5.6"/>
<line x1="2088.9" y1="1399.2" x2="2101.7" y2="1438.4" stroke="#d2d2ff" stroke-width="5.6"/>
<line x1="2076.2" y1="1359.9" x2="2088.9" y2="1399.2" stroke="#dadada" stroke-width="2.2"/>
<line x1="2088.9" y1="1399.2" x2="2101.7" y2="1438.4" stroke="#e6e6ff" stroke-width="2.2"/>
<line x1="2101.7" y1="1438.4" x2="2073.1" y2="1466.6" stroke="#d2d2ff" stroke-width="5.6"/>
<line x1="2073.1" y1="1466.6" x2="2044.4" y2="1494.7" stroke="#c8c8c8" stroke-width="5.6"/>
<line x1="2101.7" y1="1438.4" x2="2073.1" y2="1466.6" stroke="#e6e6ff" stroke-width="2.2"/>
<line x1="2073.1" y1="1466.6" x2="2044.4" y2="1494.7" stroke="#dadada" stroke-width="2.2"/>
<line x1="2044.4" y1="1494.7" x2="2013.5" y2="1471.7" stroke="#c8c8c8" stroke-width="5.6"/>
<line x1="2013.5" y1="1471.7" x2="1982.5" y2="1448.7" stroke="#c8c8c8" stroke-width="5.6"/>
<line x1="2044.4" y1="1494.7" x2="2013.5" y2="1471.7" stroke="#dadada" stroke-width="2.2"/>
<line x1="2013.5" y1="1471.7" x2="1982.5" y2="1448.7" stroke="#dadada" stroke-width="2.2"/>
<line x1="2076.2" y1="1359.9" x2="2097.7" y2="1326.8" stroke="#c8c8c8" stroke-width="5.6"/>
<line x1="2097.7" y1="1326.8" x2="2119.2" y2="1293.7" stroke="#c8c8c8" stroke-width="5.6"/>
<line x1="2076.2" y1="1359.9" x2="2097.7" y2="1326.8" stroke="#dadada" stroke-width="2.2"/>
<line x1="2097.7" y1="1326.8" x2="2119.2" y2="1293.7" stroke="#dadada" stroke-width="2.2"/>
<line x1="2119.2" y1="1293.7" x2="2107.4" y2="1252.3" stroke="#c8c8c8" stroke-width="5.6"/>
<line x1="2107.4" y1="1252.3" x2="2095.7" y2="1210.9" stroke="#c8c8c8" stroke-width="5.6"/>
<line x1="2119.2" y1="1293.7" x2="2107.4" y2="1252.3" stroke="#dadada" stroke-width="2.2"/>
<line x1="2107.4" y1="1252.3" x2="2095.7" y2="1210.9" stroke="#dadada" stroke-width="2.2"/>
<line x1="2095.7" y1="1210.9" x2="2117.8" y2="1182.2" stroke="#c8c8c8" stroke-width="5.6"/>
<line x1="2117.8" y1="1182.2" x2="2139.9" y2="1153.5" stroke="#c8c8c8" stroke-width="5.6"/>
<line x1="2095.7" y1="1210.9" x2="2117.8" y2="1182.2" stroke="#dadada" stroke-width="2.2"/>
<line x1="2117.8" y1="1182.2" x2="2139.9" y2="1153.5" stroke="#dadada" stroke-width="2.2"/>
<line x1="2139.9" y1="1153.5" x2="2171.3" y2="1166.1" stroke="#c8c8c8" stroke-width="5.6"/>
<line x1="2171.3" y1="1166.1" x2="2202.7" y2="1178.7" stroke="#c8c8c8" stroke-width="5.6"/>
<line x1="2139.9" y1="1153.5" x2="2171.3" y2="1166.1" stroke="#dadada" stroke-width="2.2"/>
<line x1="2171.3" y1="1166.1" x2="2202.7" y2="1178.7" stroke="#dadada" stroke-width="2.2"/>
<line x1="2202.7" y1="1178.7" x2="2211.3" y2="1218.0" stroke="#c8c8c8" stroke-width="5.6"/>
<line x1="2211.3" y1="1218.0" x2="2219.9" y2="1257.3" stroke="#c8c8c8" stroke-width="5.6"/>
<line x1="2202.7" y1="1178.7" x2="2211.3" y2="1218.0" stroke="#dadada" stroke-width="2.2"/>
<line x1="2211.3" y1="1218.0" x2="2219.9" y2="1257.3" stroke="#dadada" stroke-width="2.2"/>
<line x1="2219.9" y1="1257.3" x2="2201.4" y2="1285.9" stroke="#c8c8c8" stroke-width="5.6"/>
<line x1="2201.4" y1="1285.9" x2="2182.8" y2="1314.6" stroke="#d2d2ff" stroke-width="5.6"/>
<line x1="2219.9" y1="1257.3" x2="2201.4" y2="1285.9" stroke="#dadada" stroke-width="2.2"/>
<line x1="2201.4" y1="1285.9" x2="2182.8" y2="1314.6" stroke="#e6e6ff" stroke-width="2.2"/>
<line x1="2182.8" y1="1314.6" x2="2151.0" y2="1304.2" stroke="#d2d2ff" stroke-width="5.6"/>
<line x1="2151.0" y1="1304.2" x2="2119.2" y2="1293.7" stroke="#c8c8c8" stroke-width="5.6"/>
<line x1="2182.8" y1="1314.6" x2="2151.0" y2="1304.2" stroke="#e6e6ff" stroke-width="2.2"/>
<line x1="2151.0" y1="1304.2" x2="2119.2" y2="1293.7" stroke="#dadada" stroke-width="2.2"/>
<line x1="2044.4" y1="1494.7" x2="2051.0" y2="1540.4" stroke="#c8c8c8" stroke-width="5.6"/>
<line x1="2051.0" y1="1540.4" x2="2057.6" y2="1586.1" stroke="#c8c8c8" stroke-width="5.6"/>
<line x1="2044.4" y1="1494.7" x2="2051.0" y2="1540.4" stroke="#dadada" stroke-width="2.2"/>
<line x1="2051.0" y1="1540.4" x2="2057.6" y2="1586.1" stroke="#dadada" stroke-width="2.2"/>
<line x1="1735.1" y1="1429.5" x2="1708.6" y2="1410.8" stroke="#c8c8c8" stroke-width="4.6"/>
<line x1="1708.6" y1="1410.8" x2="1682.1" y2="1392.1" stroke="#dedede" stroke-width="4.6"/>
<line x1="1735.1" y1="1429.5" x2="1708.6" y2="1410.8" stroke="#dadada" stroke-width="1.8"/>
<line x1="1708.6" y1="1410.8" x2="1682.1" y2="1392.1" stroke="#eeeeee" stroke-width="1.8"/>
<line x1="1714.2" y1="1491.7" x2="1675.3" y2="1497.8" stroke="#c8c8c8" stroke-width="4.6"/>
<line x1="1675.3" y1="1497.8" x2="1636.4" y2="1504.0" stroke="#dedede" stroke-width="4.6"/>
<line x1="1714.2" y1="1491.7" x2="1675.3" y2="1497.8" stroke="#dadada" stroke-width="1.8"/>
<line x1="1675.3" y1="1497.8" x2="1636.4" y2="1504.0" stroke="#eeeeee" stroke-width="1.8"/>
<line x1="1791.4" y1="1543.0" x2="1784.8" y2="1572.3" stroke="#c8c8c8" stroke-width="4.6"/>
<line x1="1784.8" y1="1572.3" x2="1778.1" y2="1601.7" stroke="#dedede" stroke-width="4.6"/>
<line x1="1791.4" y1="1543.0" x2="1784.8" y2="1572.3" stroke="#dadada" stroke-width="1.8"/>
<line x1="1784.8" y1="1572.3" x2="1778.1" y2="1601.7" stroke="#eeeeee" stroke-width="1.8"/>
<line x1="1886.4" y1="1525.5" x2="1917.3" y2="1544.5" stroke="#c8c8c8" stroke-width="4.6"/>
<line x1="1917.3" y1="1544.5" x2="1948.3" y2="1563.6" stroke="#dedede" stroke-width="4.6"/>
<line x1="1886.4" y1="1525.5" x2="1917.3" y2="1544.5" stroke="#dadada" stroke-width="1.8"/>
<line x1="1917.3" y1="1544.5" x2="1948.3" y2="1563.6" stroke="#eeeeee" stroke-width="1.8"/>
<line x1="2003.3" y1="1363.2" x2="1978.4" y2="1344.7" stroke="#d2d2ff" stroke-width="4.6"/>
<line x1="1978.4" y1="1344.7" x2="1953.6" y2="1326.2" stroke="#dedede" stroke-width="4.6"/>
<line x1="2003.3" y1="1363.2" x2="1978.4" y2="1344.7" stroke="#e6e6ff" stroke-width="1.8"/>
<line x1="1978.4" y1="1344.7" x2="1953.6" y2="1326.2" stroke="#eeeeee" stroke-width="1.8"/>
<line x1="2101.7" y1="1438.4" x2="2127.0" y2="1443.8" stroke="#d2d2ff" stroke-width="4.6"/>
<line x1="2127.0" y1="1443.8" x2="2152.3" y2="1449.3" stroke="#dedede" stroke-width="4.6"/>
<line x1="2101.7" y1="1438.4" x2="2127.0" y2="1443.8" stroke="#e6e6ff" stroke-width="1.8"/>
<line x1="2127.0" y1="1443.8" x2="2152.3" y2="1449.3" stroke="#eeeeee" stroke-width="1.8"/>
<line x1="2095.7" y1="1210.9" x2="2068.8" y2="1202.7" stroke="#c8c8c8" stroke-width="4.6"/>
<line x1="2068.8" y1="1202.7" x2="2042.0" y2="1194.4" stroke="#dedede" stroke-width="4.6"/>
<line x1="2095.7" y1="1210.9" x2="2068.8" y2="1202.7" stroke="#dadada" stroke-width="1.8"/>
<line x1="2068.8" y1="1202.7" x2="2042.0" y2="1194.4" stroke="#eeeeee" stroke-width="1.8"/>
<line x1="2139.9" y1="1153.5" x2="2131.9" y2="1121.7" stroke="#c8c8c8" stroke-width="4.6"/>
<line x1="2131.9" y1="1121.7" x2="2123.8" y2="1089.9" stroke="#dedede" stroke-width="4.6"/>
<line x1="2139.9" y1="1153.5" x2="2131.9" y2="1121.7" stroke="#dadada" stroke-width="1.8"/>
<line x1="2131.9" y1="1121.7" x2="2123.8" y2="1089.9" stroke="#eeeeee" stroke-width="1.8"/>
<line x1="2202.7" y1="1178.7" x2="2219.1" y2="1158.2" stroke="#c8c8c8" stroke-width="4.6"/>
<line x1="2219.1" y1="1158.2" x2="2235.5" y2="1137.8" stroke="#dedede" stroke-width="4.6"/>
<line x1="2202.7" y1="1178.7" x2="2219.1" y2="1158.2" stroke="#dadada" stroke-width="1.8"/>
<line x1="2219.1" y1="1158.2" x2="2235.5" y2="1137.8" stroke="#eeeeee" stroke-width="1.8"/>
<line x1="2219.9" y1="1257.3" x2="2242.8" y2="1266.4" stroke="#c8c8c8" stroke-width="4.6"/>
<line x1="2242.8" y1="1266.4" x2="2265.6" y2="1275.5" stroke="#dedede" stroke-width="4.6"/>
<line x1="2219.9" y1="1257.3" x2="2242.8" y2="1266.4" stroke="#dadada" stroke-width="1.8"/>
<line x1="2242.8" y1="1266.4" x2="2265.6" y2="1275.5" stroke="#eeeeee" stroke-width="1.8"/>
<line x1="2057.6" y1="1586.1" x2="2029.9" y2="1603.8" stroke="#c8c8c8" stroke-width="4.6"/>
<line x1="2029.9" y1="1603.8" x2="2002.3" y2="1621.5" stroke="#dedede" stroke-width="4.6"/>
<line x1="2057.6" y1="1586.1" x2="2029.9" y2="1603.8" stroke="#dadada" stroke-width="1.8"/>
<line x1="2029.9" y1="1603.8" x2="2002.3" y2="1621.5" stroke="#eeeeee" stroke-width="1.8"/>
<line x1="2057.6" y1="1586.1" x2="2085.4" y2="1598.8" stroke="#c8c8c8" stroke-width="4.6"/>
<line x1="2085.4" y1="1598.8" x2="2113.2" y2="1611.6" stroke="#dedede" stroke-width="4.6"/>
<line x1="2057.6" y1="1586.1" x2="2085.4" y2="1598.8" stroke="#dadada" stroke-width="1.8"/>
<line x1="2085.4" y1="1598.8" x2="2113.2" y2="1611.6" stroke="#eeeeee" stroke-width="1.8"/>
<line x1="2057.6" y1="1586.1" x2="2061.8" y2="1594.5" stroke="#c8c8c8" stroke-width="4.6"/>
<line x1="2061.8" y1="1594.5" x2="2066.0" y2="1603.0" stroke="#dedede" stroke-width="4.6"/>
<line x1="2057.6" y1="1586.1" x2="2061.8" y2="1594.5" stroke="#dadada" stroke-width="1.8"/>
<line x1="2061.8" y1="1594.5" x2="2066.0" y2="1603.0" stroke="#eeeeee" stroke-width="1.8"/>
<g><polygon points="1882.3,1370.6 1969.4,1356.1 1982.5,1448.7 1940,1459 1893,1455" fill="#b4c6b8" fill-opacity="0.6"/><polygon points="1857.3,1403.7 1938.7,1388.4 1972.6,1425.5 1898,1466" fill="#b4c6b8" fill-opacity="0.6"/><g stroke="#a8b8ab" stroke-width="1" fill="none"><line x1="1882.3" y1="1370.6" x2="1982.5" y2="1448.7"/><line x1="1969.4" y1="1356.1" x2="1893" y2="1452"/></g><line x1="1929.8" y1="1383.5" x2="1940.3" y2="1457.7" stroke="#8d9d91" stroke-width="1.3" stroke-dasharray="3,3"/><line x1="1918.5" y1="1423.9" x2="1934.7" y2="1451.3" stroke="#9aa99d" stroke-width="1.2" stroke-dasharray="3,3"/></g>
<circle cx="1682.1" cy="1392.1" r="10.5" fill="url(#gH)"/>
<circle cx="1636.4" cy="1504.0" r="10.5" fill="url(#gH)"/>
<circle cx="1778.1" cy="1601.7" r="10.5" fill="url(#gH)"/>
<circle cx="1948.3" cy="1563.6" r="10.5" fill="url(#gH)"/>
<circle cx="1953.6" cy="1326.2" r="10.5" fill="url(#gH)"/>
<circle cx="2152.3" cy="1449.3" r="10.5" fill="url(#gH)"/>
<circle cx="2042.0" cy="1194.4" r="10.5" fill="url(#gH)"/>
<circle cx="2123.8" cy="1089.9" r="10.5" fill="url(#gH)"/>
<circle cx="2235.5" cy="1137.8" r="10.5" fill="url(#gH)"/>
<circle cx="2265.6" cy="1275.5" r="10.5" fill="url(#gH)"/>
<circle cx="2002.3" cy="1621.5" r="10.5" fill="url(#gH)"/>
<circle cx="2113.2" cy="1611.6" r="10.5" fill="url(#gH)"/>
<circle cx="2066.0" cy="1603.0" r="10.5" fill="url(#gH)"/>
<circle cx="1824.5" cy="1418.5" r="19.4" fill="url(#gC)"/>
<circle cx="1735.1" cy="1429.5" r="19.4" fill="url(#gC)"/>
<circle cx="1714.2" cy="1491.7" r="19.4" fill="url(#gC)"/>
<circle cx="1791.4" cy="1543.0" r="19.4" fill="url(#gC)"/>
<circle cx="1886.4" cy="1525.5" r="19.4" fill="url(#gC)"/>
<circle cx="1898.0" cy="1468.2" r="19.4" fill="url(#gC)"/>
<circle cx="1982.5" cy="1448.7" r="19.4" fill="url(#gC)"/>
<circle cx="2044.4" cy="1494.7" r="19.4" fill="url(#gC)"/>
<circle cx="2076.2" cy="1359.9" r="19.4" fill="url(#gC)"/>
<circle cx="2119.2" cy="1293.7" r="19.4" fill="url(#gC)"/>
<circle cx="2095.7" cy="1210.9" r="19.4" fill="url(#gC)"/>
<circle cx="2139.9" cy="1153.5" r="19.4" fill="url(#gC)"/>
<circle cx="2202.7" cy="1178.7" r="19.4" fill="url(#gC)"/>
<circle cx="2219.9" cy="1257.3" r="19.4" fill="url(#gC)"/>
<circle cx="2057.6" cy="1586.1" r="19.4" fill="url(#gC)"/>
<circle cx="2003.3" cy="1363.2" r="19.0" fill="url(#gN)"/>
<circle cx="2101.7" cy="1438.4" r="19.0" fill="url(#gN)"/>
<circle cx="2182.8" cy="1314.6" r="19.0" fill="url(#gN)"/>
<circle cx="1839.1" cy="1368.9" r="19.4" fill="url(#gO)"/>
<line x1="1826" y1="299" x2="1845" y2="298" stroke="#aaa" stroke-width="1.5" stroke-dasharray="2,4"/><line x1="1905" y1="293" x2="1937" y2="291" stroke="#bbb" stroke-width="1.5" stroke-dasharray="2,5"/>
<line x1="1840" y1="1368" x2="1858" y2="1362" stroke="#aaa" stroke-width="1.5" stroke-dasharray="2,4"/><line x1="1932" y1="1334" x2="1945" y2="1330" stroke="#bbb" stroke-width="1.5" stroke-dasharray="2,4"/>
<g fill="#ff0000" stroke="none" transform="translate(0.0 0.0)">
<polygon points="570.3,444.6 580.8,444.6 583.0,538 571.0,538"/>
<polyline points="557.6,508.7 577.9,542.3 596.2,507.9" fill="none" stroke="#ff0000" stroke-width="11" stroke-linecap="round" stroke-linejoin="miter" stroke-miterlimit="10"/>
</g>
<g fill="#000000" stroke="none" transform="translate(0.0 1050.4)">
<polygon points="570.3,444.6 580.8,444.6 583.0,538 571.0,538"/>
<polyline points="557.6,508.7 577.9,542.3 596.2,507.9" fill="none" stroke="#000000" stroke-width="11" stroke-linecap="round" stroke-linejoin="miter" stroke-miterlimit="10"/>
</g>
<g fill="#ff0000" stroke="none" transform="translate(1344.1 114.4)">
<polygon points="570.3,444.6 580.8,444.6 583.0,538 571.0,538"/>
<polyline points="557.6,508.7 577.9,542.3 596.2,507.9" fill="none" stroke="#ff0000" stroke-width="11" stroke-linecap="round" stroke-linejoin="miter" stroke-miterlimit="10"/>
</g>
<path d="M2185.5 676.5 C2230 673 2260.5 620 2260.5 565 C2260.5 515 2240 475 2204 457" fill="none" stroke="#6bd045" stroke-width="9"/>
<polygon points="2177.4,452.3 2209.7,436.1 2209.7,481.3" fill="#6bd045"/>
<path d="M2184.5 762 C2235 768 2261 860 2260.5 935 C2260 1010 2240 1080 2204 1106" fill="none" stroke="#6bd045" stroke-width="9"/>
<polygon points="2177.6,1113 2209.9,1081.9 2209.9,1125.7" fill="#6bd045"/>
<line x1="1949" y1="785" x2="2163" y2="816.2" stroke="#33862e" stroke-width="10.5"/>
<polyline points="2133.7,790.8 2163.5,816.3 2127.7,831.5" fill="none" stroke="#33862e" stroke-width="10.5" stroke-linecap="round" stroke-linejoin="miter" stroke-miterlimit="10"/>
<text transform="translate(150.52 93.35) scale(0.9800 1)" font-family="Liberation Sans" font-size="85.00" fill="#000">325</text>
<text transform="translate(150.52 262.15) scale(0.9800 1)" font-family="Liberation Sans" font-size="85.00" fill="#000">300</text>
<text transform="translate(150.52 434.35) scale(0.9800 1)" font-family="Liberation Sans" font-size="85.00" fill="#000">275</text>
<text transform="translate(150.52 603.15) scale(0.9800 1)" font-family="Liberation Sans" font-size="85.00" fill="#000">250</text>
<text transform="translate(150.52 772.45) scale(0.9800 1)" font-family="Liberation Sans" font-size="85.00" fill="#000">225</text>
<text transform="translate(197.17 1141.55) scale(0.9800 1)" font-family="Liberation Sans" font-size="85.00" fill="#000">75</text>
<text transform="translate(197.17 1309.75) scale(0.9800 1)" font-family="Liberation Sans" font-size="85.00" fill="#000">50</text>
<text transform="translate(197.17 1479.35) scale(0.9800 1)" font-family="Liberation Sans" font-size="85.00" fill="#000">25</text>
<text transform="translate(242.98 1650.15) scale(0.9800 1)" font-family="Liberation Sans" font-size="85.00" fill="#000">0</text>
<text transform="translate(521.10 1775.94) scale(0.9700 1)" font-family="Liberation Sans" font-size="85.50" fill="#000" clip-path="url(#c1_9)">1.0</text>
<text transform="translate(836.52 1776.80) scale(0.9700 1)" font-family="Liberation Sans" font-size="85.50" fill="#000" clip-path="url(#c1_10)">1.2</text>
<text transform="translate(1150.69 1776.80) scale(0.9700 1)" font-family="Liberation Sans" font-size="85.50" fill="#000" clip-path="url(#c1_11)">1.4</text>
<text transform="translate(1468.60 1775.94) scale(0.9700 1)" font-family="Liberation Sans" font-size="85.50" fill="#000" clip-path="url(#c1_12)">1.6</text>
<text transform="translate(1783.40 1775.94) scale(0.9700 1)" font-family="Liberation Sans" font-size="85.50" fill="#000" clip-path="url(#c1_13)">1.8</text>
<text transform="translate(2099.45 1775.94) scale(0.9700 1)" font-family="Liberation Sans" font-size="85.50" fill="#000">2.0</text>
<text transform="translate(369.15 152.01) scale(0.9636 1)" font-family="Liberation Sans" font-size="98.59" font-weight="bold" fill="#0000ff">S</text>
<text transform="translate(432.70 179.00)" font-family="Liberation Sans" font-size="71.74" font-weight="bold" fill="#0000ff" clip-path="url(#c1_16)">1</text>
<text transform="translate(371.16 573.10) scale(0.9292 1)" font-family="Liberation Sans" font-size="100.87" font-weight="bold" fill="#ff0000">T</text>
<text transform="translate(426.84 598.80)" font-family="Liberation Sans" font-size="71.01" font-weight="bold" fill="#ff0000" clip-path="url(#c1_18)">1</text>
<text transform="translate(368.62 1593.53) scale(0.9875 1)" font-family="Liberation Sans" font-size="97.04" font-weight="bold" fill="#000">S</text>
<text transform="translate(434.45 1619.02) scale(0.9747 1)" font-family="Liberation Sans" font-size="67.89" font-weight="bold" fill="#000">0</text>
<text transform="translate(556.08 424.00) scale(0.8755 1)" font-family="Liberation Sans" font-size="81.16" fill="#ff0000">T</text>
<text transform="translate(597.67 443.00) scale(0.9814 1)" font-family="Liberation Sans" font-size="52.61" fill="#ff0000">1</text>
<text transform="translate(626.70 397.30) scale(0.9933 1)" font-family="Liberation Sans" font-size="51.59" fill="#ff0000">N</text>
<text transform="translate(558.12 1472.91) scale(0.7536 1)" font-family="Liberation Sans" font-size="79.15" fill="#000">S</text>
<text transform="translate(597.85 1492.18) scale(1.0259 1)" font-family="Liberation Sans" font-size="52.39" fill="#000">0</text>
<text transform="translate(627.07 1447.60) scale(0.9650 1)" font-family="Liberation Sans" font-size="53.48" fill="#000">N</text>
<text transform="translate(1901.11 535.30) scale(0.8690 1)" font-family="Liberation Sans" font-size="80.14" fill="#ff0000">T</text>
<text transform="translate(1941.53 556.00) scale(0.9902 1)" font-family="Liberation Sans" font-size="52.61" fill="#ff0000">1</text>
<text transform="translate(1971.67 509.40) scale(0.9306 1)" font-family="Liberation Sans" font-size="50.14" fill="#ff0000">T</text>
<text transform="translate(1851.40 286.67) scale(0.9778 1)" font-family="Liberation Sans" font-size="32.68" fill="#000">2.000</text>
<text transform="translate(1866.56 395.48) scale(0.9848 1)" font-family="Liberation Sans" font-size="32.25" fill="#000">13.09</text>
<text transform="translate(1860.16 1346.40) scale(0.9523 1)" font-family="Liberation Sans" font-size="30.28" fill="#000">2.000</text>
<text transform="translate(1892.43 1421.59) scale(0.9160 1)" font-family="Liberation Sans" font-size="31.27" fill="#000">48.62</text>
<text transform="translate(984.82 1884.00) scale(0.9940 1)" font-family="Liberation Sans" font-size="91.00" fill="#000">O...H distance, Å</text>
<text transform="translate(100.2 865.5) rotate(-90) scale(1.009 1)" font-family="Liberation Sans" font-size="91" text-anchor="middle" fill="#000">Energy, kJ/mol</text>
<text transform="translate(1812.5 877) rotate(6.80) scale(0.935 1)" font-family="Liberation Sans" font-size="80" font-weight="bold" fill="#33862e">fall into CI</text>
<g opacity="0.9"><rect x="61" y="1883" width="31" height="18" fill="#f6f6f6" stroke="#ececec" stroke-width="1"/><line x1="64" y1="1889" x2="89" y2="1889" stroke="#e2e2e2" stroke-width="2.5"/><line x1="64" y1="1895.5" x2="89" y2="1895.5" stroke="#e4e4e4" stroke-width="1.5"/><polygon points="122,1886 137,1886 137,1879 152,1893 145,1901 122,1901" fill="#f7f7f7" stroke="#ececec" stroke-width="1"/><line x1="26" y1="1891" x2="29" y2="1887" stroke="#e6e6e6" stroke-width="1.5"/></g>
</svg></body></html>
